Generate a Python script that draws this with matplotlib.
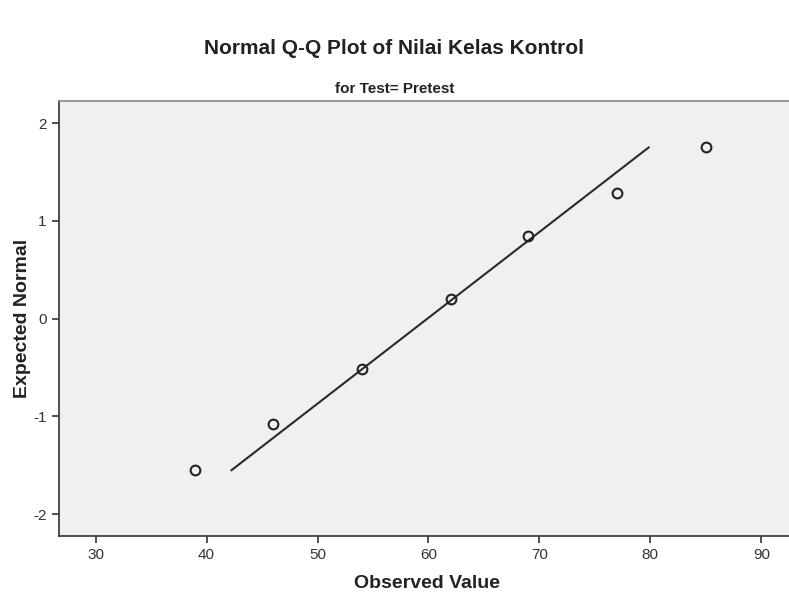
import numpy as np
import matplotlib
matplotlib.use('Agg')
import matplotlib.pyplot as plt

plt.rcParams['font.family'] = ['Liberation Sans', 'DejaVu Sans']
plt.rcParams['axes.unicode_minus'] = False

# observed scores and expected normal values
observed = [39, 46, 54, 62, 69, 77, 85]
expected = [-1.55, -1.08, -0.52, 0.20, 0.84, 1.28, 1.75]

# reference line end points
line_x = [42.25, 79.85]
line_y = [-1.55, 1.75]

x_ticks = [30, 40, 50, 60, 70, 80, 90]
y_ticks = [-2, -1, 0, 1, 2]

fig = plt.figure(figsize=(7.89, 5.97), dpi=100)
ax = fig.add_axes([0.0748, 0.1027, 0.9252, 0.7281])
ax.set_facecolor('#f0f0f0')

ax.plot(line_x, line_y, color='#2a2a2a', linewidth=1.5, zorder=2)
ax.plot(observed, expected, 'o', markerfacecolor='none', markeredgecolor='#222222',
        markersize=7, markeredgewidth=1.5, zorder=3)

ax.set_xlim(26.7, 92.5)
ax.set_ylim(-2.22, 2.225)
ax.set_xticks(x_ticks)
ax.set_yticks(y_ticks)
ax.tick_params(axis='both', direction='out', length=5, width=1.2, color='#333333',
               labelsize=11, labelcolor='#333333', pad=4)

for s in ['left', 'bottom']:
    ax.spines[s].set_color('#333333')
    ax.spines[s].set_linewidth(1.2)
ax.spines['top'].set_color('#888888')
ax.spines['top'].set_linewidth(1.2)
ax.spines['right'].set_visible(False)

xl = ax.set_xlabel('Observed Value', fontsize=14, fontweight='bold', color='#222222')
yl = ax.set_ylabel('Expected Normal', fontsize=14, fontweight='bold', color='#222222')
ax.xaxis.set_label_coords(0.504, -0.109)
ax.yaxis.set_label_coords(-0.0507, 0.5)
xl.set_va('center')
yl.set_va('center')

fig.text(0.5, 0.918, 'Normal Q-Q Plot of Nilai Kelas Kontrol', ha='center', va='center',
         fontsize=15, fontweight='bold', color='#222222')
fig.text(0.5, 0.851, 'for Test= Pretest', ha='center', va='center',
         fontsize=11, fontweight='bold', color='#222222')

fig.savefig('out.png', dpi=100)
